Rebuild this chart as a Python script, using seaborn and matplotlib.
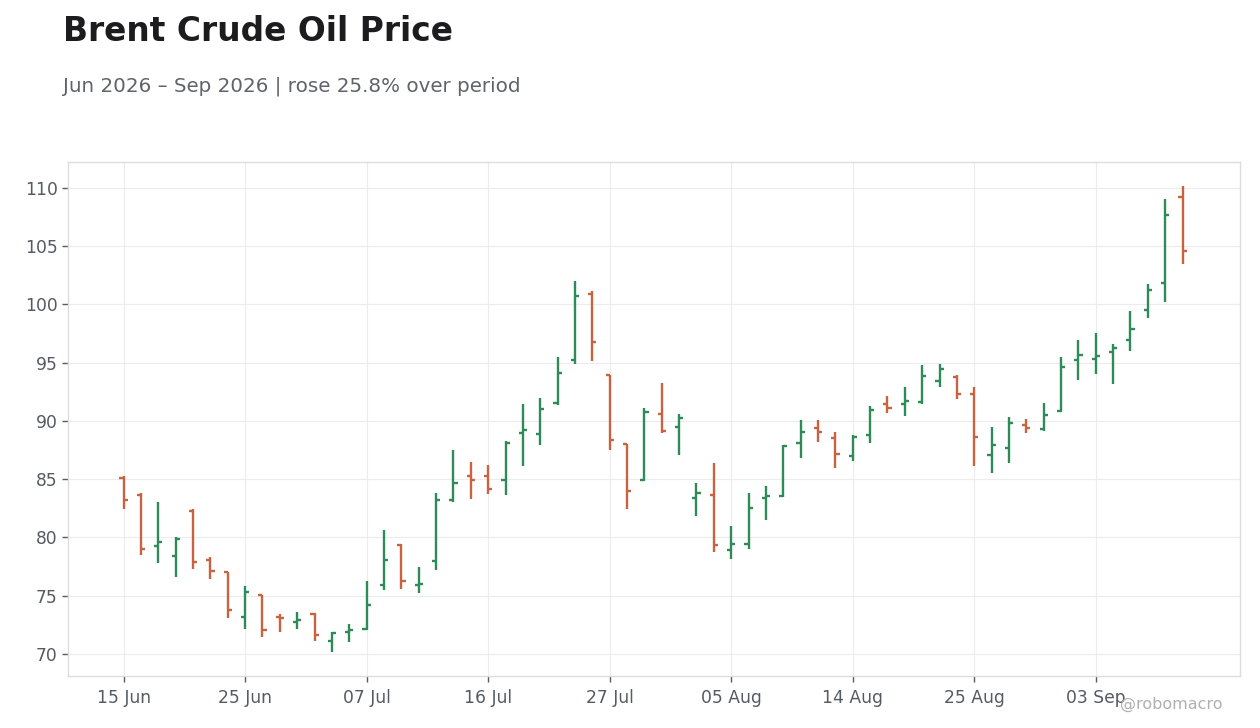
import numpy as np
import matplotlib
matplotlib.use("Agg")
import matplotlib.pyplot as plt
import seaborn as sns

# daily OHLC
opens = [85.06, 83.6, 79.25, 78.4, 82.3, 78.07, 77.0, 73.16, 75.03, 73.2,
         72.73, 73.45, 71.09, 71.87, 72.1, 75.95, 79.34, 75.9, 77.99, 83.25,
         85.23, 85.23, 84.89, 88.99, 88.85, 91.5, 95.23, 100.92, 93.94, 87.99,
         84.94, 90.57, 89.45, 83.42, 83.68, 78.94, 79.45, 83.42, 83.56, 88.07,
         89.37, 88.51, 86.95, 88.76, 91.44, 91.44, 91.61, 93.42, 93.76, 92.3,
         87.04, 87.64, 89.63, 89.3, 90.87, 95.23, 95.32, 95.92, 96.95, 99.54,
         101.87, 109.2]
highs = [85.26, 83.79, 83.05, 80.0, 82.4, 78.36, 77.07, 75.8, 75.09, 73.45,
         73.56, 73.5, 71.9, 72.6, 76.3, 80.6, 79.4, 77.44, 83.82, 87.53,
         86.49, 86.24, 88.3, 91.41, 91.93, 95.46, 102.0, 101.15, 93.97, 88.02,
         91.1, 93.22, 90.63, 84.66, 86.41, 80.98, 83.82, 84.43, 87.93, 90.11,
         90.11, 89.08, 88.79, 91.24, 92.1, 92.87, 94.77, 94.86, 93.91, 92.87,
         89.51, 90.37, 90.2, 91.58, 95.5, 96.98, 97.59, 96.58, 99.43, 101.75,
         109.08, 110.2]
lows = [82.47, 78.5, 77.8, 76.6, 77.3, 76.4, 73.07, 72.1, 71.44, 71.87,
        72.13, 71.1, 70.14, 71.0, 72.07, 75.45, 75.6, 75.23, 77.21, 83.02,
        83.3, 83.76, 83.68, 86.1, 87.9, 91.35, 94.9, 95.14, 87.47, 82.47,
        84.86, 88.94, 87.04, 81.87, 78.77, 78.16, 79.02, 81.52, 83.45, 86.78,
        88.16, 85.92, 86.55, 88.07, 90.66, 90.46, 91.44, 92.87, 91.84, 86.15,
        85.57, 86.35, 88.94, 89.11, 90.8, 93.5, 94.02, 93.16, 96.0, 98.85,
        100.23, 103.5]
closes = [83.22, 79.0, 79.6, 79.9, 77.9, 77.1, 73.76, 75.32, 72.04, 73.1,
          72.9, 71.6, 71.8, 72.04, 74.2, 78.03, 76.26, 76.0, 83.25, 84.71,
          84.94, 84.17, 88.07, 89.2, 91.0, 94.1, 100.75, 96.78, 88.33, 83.99,
          90.8, 89.11, 90.23, 83.85, 79.37, 79.45, 82.56, 83.59, 87.82, 89.02,
          89.02, 87.13, 88.59, 90.92, 91.09, 91.7, 93.85, 94.45, 92.3, 88.65,
          87.9, 89.8, 89.37, 90.5, 94.67, 95.66, 95.57, 96.26, 97.9, 101.26,
          107.64, 104.63]
tick_labels = ["15 Jun", "25 Jun", "07 Jul", "16 Jul", "27 Jul",
               "05 Aug", "14 Aug", "25 Aug", "03 Sep"]

UP = "#2e8b57"
DOWN = "#c9623f"

sns.set_theme(style="whitegrid")
plt.rcParams["font.family"] = ["DejaVu Sans"]

fig = plt.figure(figsize=(12.6, 7.28), dpi=100)
ax = fig.add_axes([0.054, 0.0714, 0.930, 0.7061])

x = np.arange(len(opens))
o = np.array(opens); h = np.array(highs); l = np.array(lows); c = np.array(closes)
colors = np.where(c >= o, UP, DOWN)
tw = 0.24

ax.vlines(x, l, h, colors=colors, linewidth=1.7, zorder=3)
ax.hlines(o, x - tw, x, colors=colors, linewidth=1.7, zorder=3)
ax.hlines(c, x, x + tw, colors=colors, linewidth=1.7, zorder=3)

ax.set_xlim(-3.2, len(opens) + 2.3)
ax.set_ylim(68.1, 112.23)
ax.set_yticks([70, 75, 80, 85, 90, 95, 100, 105, 110])
ax.set_xticks(np.arange(0, 7 * len(tick_labels), 7))
ax.set_xticklabels(tick_labels)

ax.grid(True, color="#ececec", linewidth=0.8)
for s in ax.spines.values():
    s.set_color("#dddddd")
    s.set_linewidth(1.0)
ax.tick_params(axis="both", labelsize=12.3, colors="#555a63", length=4,
               width=1, direction="out", bottom=True, left=True)
ax.tick_params(axis="x", pad=5)

fig.text(0.05, 0.979, "Brent Crude Oil Price", fontsize=23.7, fontweight="bold",
         color="#1c1c1f", va="top")
fig.text(0.05, 0.895, "Jun 2026 \u2013 Sep 2026 | rose 25.8% over period",
         fontsize=14.3, color="#60636b", va="top")
fig.text(0.970, 0.032, "@robomacro", fontsize=11.5, color="#b0b0b0",
         ha="right", va="center")

fig.savefig("out.png", dpi=100)
